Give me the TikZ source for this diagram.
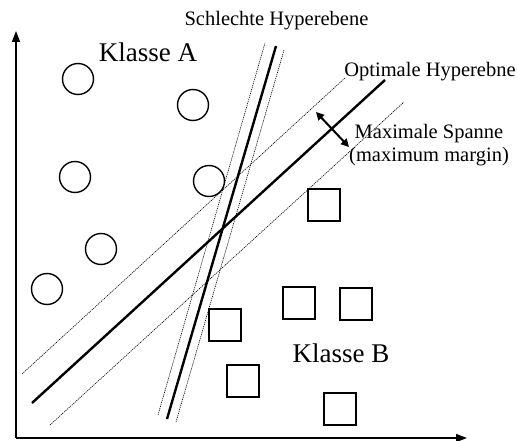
\documentclass[tikz,border=0pt]{standalone}
\usepackage{fontspec}
\setmainfont{Liberation Serif}
\usetikzlibrary{arrows.meta}
\begin{document}
\begin{tikzpicture}[x=1pt,y=-1pt,
  pt/.style={circle,draw,line width=1.4pt,minimum size=31pt,inner sep=0pt},
  sq/.style={rectangle,draw,line width=1.4pt,minimum size=32pt,inner sep=0pt},
  hyper/.style={line width=2.4pt},
  margin/.style={line width=0.6pt,dash pattern=on 1.2pt off 0.9pt},
  axis/.style={line width=1.6pt,-{Triangle[length=11pt,width=8pt]}},
  small/.style={font=\fontsize{20.5}{23}\selectfont,inner sep=0pt},
  big/.style={font=\fontsize{27}{30}\selectfont,inner sep=0pt}]
\useasboundingbox (0,0) rectangle (517,441);
% axes
\coordinate (O) at (16,438);
\coordinate (Y) at (16,31);
\coordinate (X) at (467,438);
\draw[axis] (O) -- (Y);
\draw[axis] (O) -- (X);
% circles
\node[pt] (c1) at (78,79) {};
\node[pt] (c2) at (193,105) {};
\node[pt] (c3) at (75,177) {};
\node[pt] (c4) at (209,181) {};
\node[pt] (c5) at (101,249) {};
\node[pt] (c6) at (47,289) {};
% squares
\node[sq] (s1) at (324,205) {};
\node[sq] (s2) at (225,325) {};
\node[sq] (s3) at (243,381) {};
\node[sq] (s4) at (299,303) {};
\node[sq] (s5) at (356,304) {};
\node[sq] (s6) at (340,409) {};
% optimal hyperplane and margins
\coordinate (oa) at (32,403);  \coordinate (ob) at (385,80);
\coordinate (ua) at (22,374);  \coordinate (ub) at (345,78);
\coordinate (la) at (50,425);  \coordinate (lb) at (404,102);
\draw[hyper] (oa) -- (ob);
\draw[margin] (ua) -- (ub);
\draw[margin] (la) -- (lb);
% bad hyperplane and margins
\coordinate (ba) at (167,419); \coordinate (bb) at (276,46);
\coordinate (bla) at (158,415); \coordinate (blb) at (265,43);
\coordinate (bra) at (176,422); \coordinate (brb) at (284,50);
\draw[hyper] (ba) -- (bb);
\draw[margin] (bla) -- (blb);
\draw[margin] (bra) -- (brb);
% margin arrow
\coordinate (m1) at (316,112); \coordinate (m2) at (349,147);
\draw[line width=2pt,{Triangle[length=8pt,width=8pt]}-{Triangle[length=8pt,width=8pt]}] (m1) -- (m2);
% labels
\node[small] (t1) at (276.5,21) {Schlechte Hyperebene};
\node[small] (t2) at (430,72) {Optimale Hyperebne};
\node[small,align=center] (t3) at (429,145) {Maximale Spanne\\(maximum margin)};
\node[big] (ka) at (148,52) {Klasse A};
\node[big] (kb) at (341,353) {Klasse B};
\end{tikzpicture}
\end{document}
